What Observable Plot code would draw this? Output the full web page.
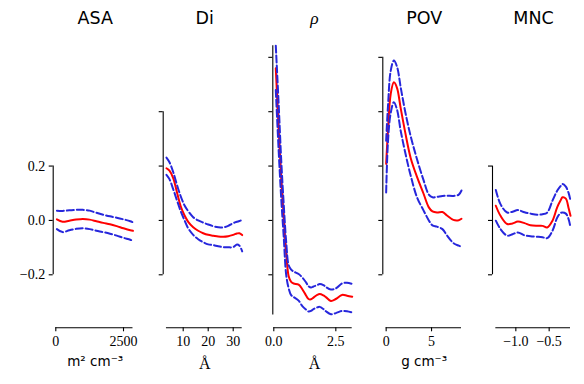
<!DOCTYPE html>
<html><head><meta charset="utf-8">
<script src="https://cdn.jsdelivr.net/npm/d3@7"></script>
<script src="https://cdn.jsdelivr.net/npm/@observablehq/plot@0.6"></script>
<style>
body{margin:0;background:#fff;}
#chart{position:relative;width:584px;height:384px;background:#fff;}
#chart svg{position:absolute;top:0;}
</style></head><body><div id="chart"></div>
<script>
// ---------- data ----------
const titles = ["ASA", "Di", "ρ", "POV", "MNC"];
const xLabels = ["m² cm⁻³", "Å", "Å", "g cm⁻³", ""];

const asaX = [40, 250, 500, 750, 1000, 1250, 1500, 1750, 2000, 2250, 2500, 2750, 2850];
const asaMean = [0.004, -0.005, -0.001, 0.003, 0.005, 0.003, -0.003, -0.009, -0.014, -0.021, -0.029, -0.036, -0.038];
const asaUpper = [0.036, 0.035, 0.037, 0.039, 0.039, 0.036, 0.028, 0.021, 0.015, 0.010, 0.004, -0.003, -0.007];
const asaLower = [-0.032, -0.043, -0.036, -0.031, -0.029, -0.032, -0.038, -0.043, -0.049, -0.056, -0.064, -0.071, -0.075];

const diX = [3.3, 4.5, 6, 7.5, 9, 10.5, 12, 14, 16, 18, 20, 22, 24, 26, 28, 30, 31.5, 32.5, 33.6];
const diMean = [0.192, 0.183, 0.156, 0.104, 0.052, 0.019, -0.005, -0.025, -0.038, -0.047, -0.053, -0.056, -0.059, -0.060, -0.058, -0.053, -0.048, -0.047, -0.054];
const diUpper = [0.231, 0.214, 0.178, 0.131, 0.089, 0.056, 0.034, 0.012, 0.0, -0.008, -0.015, -0.021, -0.025, -0.026, -0.020, -0.010, -0.005, -0.002, 0.001];
const diLower = [0.168, 0.152, 0.115, 0.074, 0.034, 0.001, -0.029, -0.053, -0.069, -0.080, -0.088, -0.091, -0.095, -0.098, -0.099, -0.098, -0.089, -0.093, -0.114];

const rhoX = [0.08, 0.2, 0.3, 0.4, 0.5, 0.6, 0.7, 0.8, 1.0, 1.15, 1.3, 1.4, 1.5, 1.6, 1.75, 1.85, 2.0, 2.1, 2.3, 2.5, 2.75, 2.95, 3.16];
const rhoMean = [0.56, 0.33, 0.153, 0.015, -0.12, -0.205, -0.226, -0.232, -0.236, -0.253, -0.276, -0.289, -0.29, -0.284, -0.274, -0.271, -0.276, -0.282, -0.296, -0.289, -0.274, -0.277, -0.281];
const rhoUpper = [0.643, 0.42, 0.22, 0.06, -0.08, -0.165, -0.181, -0.188, -0.197, -0.21, -0.228, -0.242, -0.247, -0.243, -0.238, -0.234, -0.238, -0.245, -0.254, -0.25, -0.232, -0.229, -0.234];
const rhoLower = [0.48, 0.25, 0.08, -0.06, -0.2, -0.25, -0.275, -0.282, -0.295, -0.315, -0.328, -0.335, -0.333, -0.326, -0.32, -0.318, -0.326, -0.334, -0.345, -0.341, -0.333, -0.334, -0.339];

const povX = [0, 0.2, 0.5, 0.85, 1.2, 1.6, 2.1, 2.7, 3.4, 4.1, 4.7, 5.1, 5.6, 6.2, 6.7, 7.4, 8.0, 8.3];
const povMean = [0.208, 0.33, 0.465, 0.508, 0.487, 0.413, 0.324, 0.23, 0.16, 0.10, 0.048, 0.033, 0.029, 0.031, 0.018, 0.002, 0.001, 0.006];
const povUpper = [0.293, 0.42, 0.55, 0.588, 0.565, 0.49, 0.40, 0.31, 0.225, 0.15, 0.095, 0.085, 0.087, 0.09, 0.091, 0.09, 0.095, 0.11];
const povLower = [0.103, 0.29, 0.395, 0.435, 0.407, 0.33, 0.25, 0.165, 0.085, 0.038, 0.0, -0.018, -0.023, -0.032, -0.055, -0.083, -0.093, -0.097];

const mncX = [-1.30, -1.23, -1.13, -1.05, -0.97, -0.87, -0.78, -0.68, -0.60, -0.53, -0.45, -0.38, -0.33, -0.30, -0.25, -0.21, -0.18];
const mncMean = [0.054, 0.017, -0.013, -0.011, -0.004, -0.010, -0.018, -0.020, -0.020, -0.026, -0.001, 0.048, 0.073, 0.085, 0.080, 0.047, 0.017];
const mncUpper = [0.112, 0.060, 0.029, 0.032, 0.038, 0.030, 0.025, 0.021, 0.023, 0.029, 0.073, 0.109, 0.126, 0.134, 0.124, 0.102, 0.073];
const mncLower = [-0.001, -0.032, -0.056, -0.051, -0.044, -0.055, -0.058, -0.060, -0.062, -0.065, -0.038, 0.010, 0.027, 0.029, 0.025, 0.006, -0.026];

const xTicks = [[0, 2500], [10, 20, 30], [0, 2.5], [0, 5], [-1.0, -0.5]];
const xTickDecimals = [0, 0, 1, 0, 1];
const yTicks = [[-0.2, 0, 0.2], [-0.2, 0, 0.2, 0.4], [-0.2, 0, 0.2, 0.4, 0.6], [-0.2, 0, 0.2, 0.4, 0.6], [-0.2, 0, 0.2]];
const ySpans = [[-0.2, 0.2], [-0.2, 0.4], [-0.348, 0.643], [-0.2, 0.6], [-0.2, 0.2]];
const xSpans = [[0, 2850], [3.3, 33.6], [0, 3.16], [0, 8.3], [-1.30, -0.18]];
const xDomains = [[-96, 2858], [2.0, 33.6], [-0.04, 3.16], [-0.37, 8.3], [-1.35, -0.18]];

const seriesX = [asaX, diX, rhoX, povX, mncX];
const seriesMean = [asaMean, diMean, rhoMean, povMean, mncMean];
const seriesUpper = [asaUpper, diUpper, rhoUpper, povUpper, mncUpper];
const seriesLower = [asaLower, diLower, rhoLower, povLower, mncLower];

// ---------- layout ----------
const boxes = [[0, 145], [145, 255], [255, 365], [365, 475], [475, 584]];
const frames = [[52.7, 132.7], [162.7, 241.7], [272.3, 351.7], [382.3, 461], [492, 570]];
const yDomain = [-0.395, 0.7];
const yRange = [327.3, 29.65];
const SERIF = "'Liberation Serif', 'DejaVu Serif', serif";
const SANS = "'DejaVu Sans', sans-serif";
const BLUE = "#2626dc";

const fmt = dec => d => (d < 0 ? "\u2212" : "") + Math.abs(d).toFixed(dec);
const chart = document.getElementById("chart");

titles.forEach((title, i) => {
  const [bl, br] = boxes[i];
  const [fl, fr] = frames[i];
  const rows = s => seriesX[i].map((x, j) => ({x, y: s[j]}));
  const xl = xLabels[i];
  const xlSerif = xl === "Å";
  const svg = Plot.plot({
    width: br - bl,
    height: 384,
    marginLeft: fl - bl,
    marginRight: br - fr,
    marginTop: yRange[1],
    marginBottom: 384 - yRange[0],
    x: {domain: xDomains[i], label: null},
    y: {domain: yDomain, range: yRange, label: null},
    style: {background: "transparent", fontSize: "14px", overflow: "visible", color: "black"},
    marks: [
      Plot.ruleX([xDomains[i][0]], {y1: ySpans[i][0], y2: ySpans[i][1], stroke: "black", strokeWidth: 1.1}),
      Plot.ruleY([yDomain[0]], {x1: xSpans[i][0], x2: xSpans[i][1], stroke: "black", strokeWidth: 1.1}),
      Plot.axisY({ticks: yTicks[i], tickSize: 4, tickPadding: 4, strokeWidth: 1.1,
                  tickFormat: i === 0 ? fmt(1) : () => "", label: null}),
      Plot.axisX({ticks: xTicks[i], tickSize: 4, tickPadding: 4, strokeWidth: 1.1,
                  tickFormat: fmt(xTickDecimals[i]), label: null}),
      Plot.line(rows(seriesMean[i]), {x: "x", y: "y", stroke: "red", strokeWidth: 2, curve: "catmull-rom"}),
      Plot.line(rows(seriesUpper[i]), {x: "x", y: "y", stroke: BLUE, strokeWidth: 2, strokeDasharray: "7,3", curve: "catmull-rom"}),
      Plot.line(rows(seriesLower[i]), {x: "x", y: "y", stroke: BLUE, strokeWidth: 2, strokeDasharray: "7,3", curve: "catmull-rom"}),
      Plot.text([title], {text: d => d, frameAnchor: "top", dx: 2, dy: -11.5, lineAnchor: "middle",
                          fontSize: 17.5, fontFamily: i === 2 ? SERIF : SANS, fontStyle: i === 2 ? "italic" : "normal"}),
      Plot.text([xl], {text: d => d, frameAnchor: "bottom", dx: 2, dy: xlSerif ? 36 : 33.5, lineAnchor: "middle",
                       fontSize: xlSerif ? 16 : 13.5, fontFamily: xlSerif ? SERIF : SANS})
    ]
  });
  // axis tick labels in a serif face, like the reference's math text
  d3.select(svg).selectAll('g[aria-label$="tick label"]')
    .attr("font-family", SERIF).attr("font-size", 14)
    .selectAll("text").style("font-family", SERIF).style("font-size", "14px");
  svg.style.position = "absolute";
  svg.style.left = bl + "px";
  svg.style.top = "0px";
  chart.appendChild(svg);
});
</script>
</body></html>
